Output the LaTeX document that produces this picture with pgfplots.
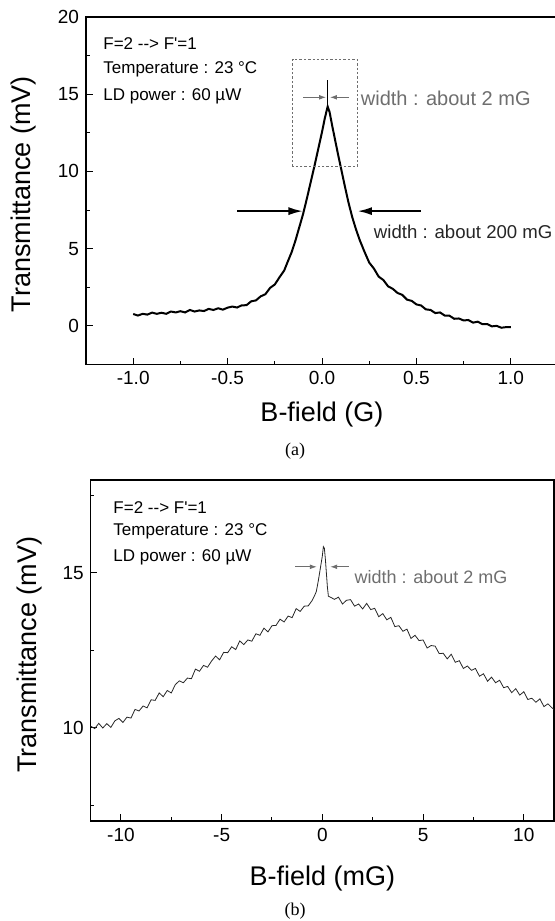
\documentclass[border=0pt]{standalone}
\usepackage{pgfplots}
\pgfplotsset{compat=1.18}
\usepackage{fontspec}
\setmainfont{Liberation Sans}
\newfontfamily\capfont{Liberation Serif}
\usetikzlibrary{arrows.meta}

\definecolor{annogray}{RGB}{110,110,110}

\pgfplotsset{
  panel/.style={
    scale only axis,
    anchor=south west,
    clip=false,
    tick align=inside,
    xtick pos=bottom,
    ytick pos=left,
    major tick length=3.3pt,
    minor tick length=1.8pt,
    axis line style={line width=0.6pt},
    every tick/.append style={line width=0.5pt, black},
    tick label style={font=\fontsize{9.5}{10}\selectfont},
    /pgf/number format/assume math mode=true,
  },
}
\tikzset{annot/.style={font=\fontsize{8.5}{9}\selectfont, anchor=west, inner sep=0pt}}

\begin{document}
\begin{tikzpicture}
\useasboundingbox (0,0) rectangle (277.5pt,460.5pt);

% (a) wide scan
\begin{axis}[panel,
  at={(43pt,278.25pt)}, width=236pt, height=173.75pt,
  xmin=-1.25, xmax=1.25, ymin=-2.5, ymax=20,
  xtick={-1,-0.5,0,0.5,1}, ytick={0,5,10,15,20},
  minor x tick num=1, minor y tick num=1,
  xticklabel style={/pgf/number format/.cd, fixed, fixed zerofill, precision=1},
  xlabel={B-field (G)}, ylabel={Transmittance (mV)},
  every axis x label/.style={at={(axis description cs:0.5,-0.1646)}, anchor=base, font=\fontsize{13.5}{14}\selectfont},
  every axis y label/.style={at={(axis description cs:-0.117,0.49)}, anchor=base, rotate=90, font=\fontsize{13.5}{14}\selectfont},
]
\addplot[black, line width=1pt] coordinates {
(-1.000,0.77) (-0.975,0.67) (-0.950,0.78) (-0.925,0.73) (-0.900,0.86)
(-0.875,0.78) (-0.850,0.85) (-0.825,0.78) (-0.800,0.93) (-0.775,0.87)
(-0.750,0.95) (-0.725,0.87) (-0.700,1.03) (-0.675,0.93) (-0.650,1.00)
(-0.625,0.96) (-0.600,1.10) (-0.575,1.03) (-0.550,1.14) (-0.525,1.05)
(-0.500,1.18) (-0.475,1.25) (-0.450,1.19) (-0.425,1.33) (-0.400,1.34)
(-0.375,1.59) (-0.350,1.65) (-0.325,1.91) (-0.300,2.05) (-0.275,2.46)
(-0.250,2.68) (-0.225,3.15) (-0.200,3.59) (-0.180,4.20) (-0.160,4.80)
(-0.140,5.55) (-0.120,6.40) (-0.100,7.25) (-0.080,8.25) (-0.060,9.30)
(-0.040,10.35) (-0.020,11.45) (0.000,12.55) (0.015,13.45) (0.030,14.20)
(0.040,13.85) (0.055,12.90) (0.070,12.00) (0.085,11.10) (0.100,10.25)
(0.120,9.10) (0.140,8.00) (0.160,7.05) (0.180,6.25) (0.200,5.55)
(0.225,4.80) (0.250,4.10) (0.275,3.71) (0.300,3.19) (0.325,2.97)
(0.350,2.56) (0.375,2.40) (0.400,2.13) (0.425,2.01) (0.450,1.70)
(0.475,1.62) (0.500,1.39) (0.525,1.32) (0.550,1.07) (0.575,1.03)
(0.600,0.83) (0.625,0.87) (0.650,0.67) (0.675,0.66) (0.700,0.46)
(0.725,0.48) (0.750,0.35) (0.775,0.38) (0.800,0.21) (0.825,0.27)
(0.850,0.11) (0.875,0.12) (0.900,-0.03) (0.925,0.00) (0.950,-0.12)
(0.975,-0.08) (1.000,-0.08)
};
% narrow spike on top of the broad peak
\addplot[black, line width=0.5pt] coordinates {(0.031,14.0) (0.031,15.9)};

\draw[annogray, line width=0.4pt, dash pattern=on 1.2pt off 1pt]
  (axis cs:-0.155,10.3) rectangle (axis cs:0.186,17.27);
\draw[annogray, line width=0.5pt, -{Latex[length=3.5pt,width=2.4pt]}]
  (axis cs:-0.10,14.8) -- (axis cs:0.022,14.8);
\draw[annogray, line width=0.5pt, -{Latex[length=3.5pt,width=2.4pt]}]
  (axis cs:0.143,14.8) -- (axis cs:0.042,14.8);
\node[annot, text=annogray, font=\fontsize{10}{11}\selectfont] at (axis cs:0.204,14.75) {width : about 2 mG};

\draw[black, line width=1.2pt, -{Latex[length=7.5pt,width=4pt]}]
  (axis cs:-0.45,7.43) -- (axis cs:-0.098,7.43);
\draw[black, line width=1.2pt, -{Latex[length=7.5pt,width=4pt]}]
  (axis cs:0.523,7.43) -- (axis cs:0.185,7.43);
\node[annot, text=black!85, font=\fontsize{9.3}{10}\selectfont] at (axis cs:0.273,6.08) {width : about 200 mG};

\node[annot] at (axis cs:-1.16,18.31) {F=2 -{}-> F\textquotesingle=1};
\node[annot] at (axis cs:-1.16,16.63) {Temperature : 23 °C};
\node[annot] at (axis cs:-1.16,14.88) {LD power : 60 µW};
\end{axis}

\node[font=\capfont\fontsize{9}{10}\selectfont, anchor=base] at (147.5pt,232.5pt) {(a)};

% (b) narrow scan
\begin{axis}[panel,
  at={(45.35pt,50pt)}, width=231.65pt, height=170.5pt,
  xmin=-11.5, xmax=11.5, ymin=7, ymax=18,
  xtick={-10,-5,0,5,10}, ytick={10,15}, minor x tick num=1,
  minor ytick={7.5,12.5,17.5},
  xlabel={B-field (mG)}, ylabel={Transmittance (mV)},
  every axis x label/.style={at={(axis description cs:0.5,-0.1877)}, anchor=base, font=\fontsize{13.5}{14}\selectfont},
  every axis y label/.style={at={(axis description cs:-0.116,0.487)}, anchor=base, rotate=90, font=\fontsize{13.5}{14}\selectfont},
]
\addplot[black!85, line width=0.4pt] coordinates {
(-11.5,10.06) (-11.3,9.98) (-11.1,10.15) (-10.9,10.00) (-10.7,10.14)
(-10.5,10.02) (-10.3,10.23) (-10.1,10.31) (-9.9,10.18) (-9.7,10.35)
(-9.5,10.32) (-9.3,10.60) (-9.1,10.55) (-8.9,10.71) (-8.7,10.65)
(-8.5,10.91) (-8.3,10.89) (-8.1,11.13) (-7.9,11.01) (-7.7,11.21)
(-7.5,11.13) (-7.3,11.40) (-7.1,11.52) (-6.9,11.46) (-6.7,11.61)
(-6.5,11.59) (-6.3,11.90) (-6.1,11.83) (-5.9,12.02) (-5.7,11.96)
(-5.5,12.16) (-5.3,12.32) (-5.1,12.20) (-4.9,12.44) (-4.7,12.43)
(-4.5,12.62) (-4.3,12.53) (-4.1,12.81) (-3.9,12.69) (-3.7,12.84)
(-3.5,12.80) (-3.3,13.04) (-3.1,12.99) (-2.9,13.22) (-2.7,13.10)
(-2.5,13.30) (-2.3,13.31) (-2.1,13.51) (-1.9,13.42) (-1.7,13.61)
(-1.5,13.56) (-1.3,13.85) (-1.1,13.76) (-0.9,13.93) (-0.7,13.94)
(-0.5,14.12) (-0.4,14.25) (-0.3,14.40) (-0.2,14.75) (-0.1,15.15)
(0.0,15.55) (0.05,15.85) (0.1,15.80) (0.15,15.45) (0.2,15.00)
(0.25,14.55) (0.3,14.25) (0.4,14.22) (0.6,14.15) (0.8,14.22)
(1.0,14.00) (1.2,14.12) (1.4,14.14) (1.6,13.93) (1.8,14.00)
(2.0,13.84) (2.2,14.02) (2.4,13.82) (2.6,13.86) (2.8,13.59)
(3.0,13.69) (3.2,13.49) (3.4,13.57) (3.6,13.27) (3.8,13.30)
(4.0,13.12) (4.2,13.19) (4.4,12.89) (4.6,12.99) (4.8,12.82)
(5.0,12.84) (5.2,12.58) (5.4,12.66) (5.6,12.64) (5.8,12.40)
(6.0,12.41) (6.2,12.23) (6.4,12.38) (6.6,12.12) (6.8,12.17)
(7.0,11.92) (7.2,12.00) (7.4,11.86) (7.6,11.92) (7.8,11.67)
(8.0,11.75) (8.2,11.51) (8.4,11.64) (8.6,11.46) (8.8,11.54)
(9.0,11.30) (9.2,11.34) (9.4,11.14) (9.6,11.27) (9.8,11.06)
(10.0,11.17) (10.2,10.92) (10.4,10.96) (10.6,10.83) (10.8,10.94)
(11.0,10.69) (11.2,10.78) (11.4,10.65) (11.5,10.60)
};

\draw[annogray, line width=0.5pt, -{Latex[length=3.5pt,width=2.4pt]}]
  (axis cs:-1.35,15.2) -- (axis cs:-0.27,15.2);
\draw[annogray, line width=0.5pt, -{Latex[length=3.5pt,width=2.4pt]}]
  (axis cs:1.30,15.2) -- (axis cs:0.39,15.2);
\node[annot, text=annogray, font=\fontsize{9}{10}\selectfont] at (axis cs:1.58,14.88) {width : about 2 mG};

\node[annot] at (axis cs:-10.39,17.11) {F=2 -{}-> F\textquotesingle=1};
\node[annot] at (axis cs:-10.39,16.35) {Temperature : 23 °C};
\node[annot] at (axis cs:-10.39,15.49) {LD power : 60 µW};
\end{axis}

\node[font=\capfont\fontsize{9}{10}\selectfont, anchor=base] at (147.5pt,2.5pt) {(b)};
\end{tikzpicture}
\end{document}
